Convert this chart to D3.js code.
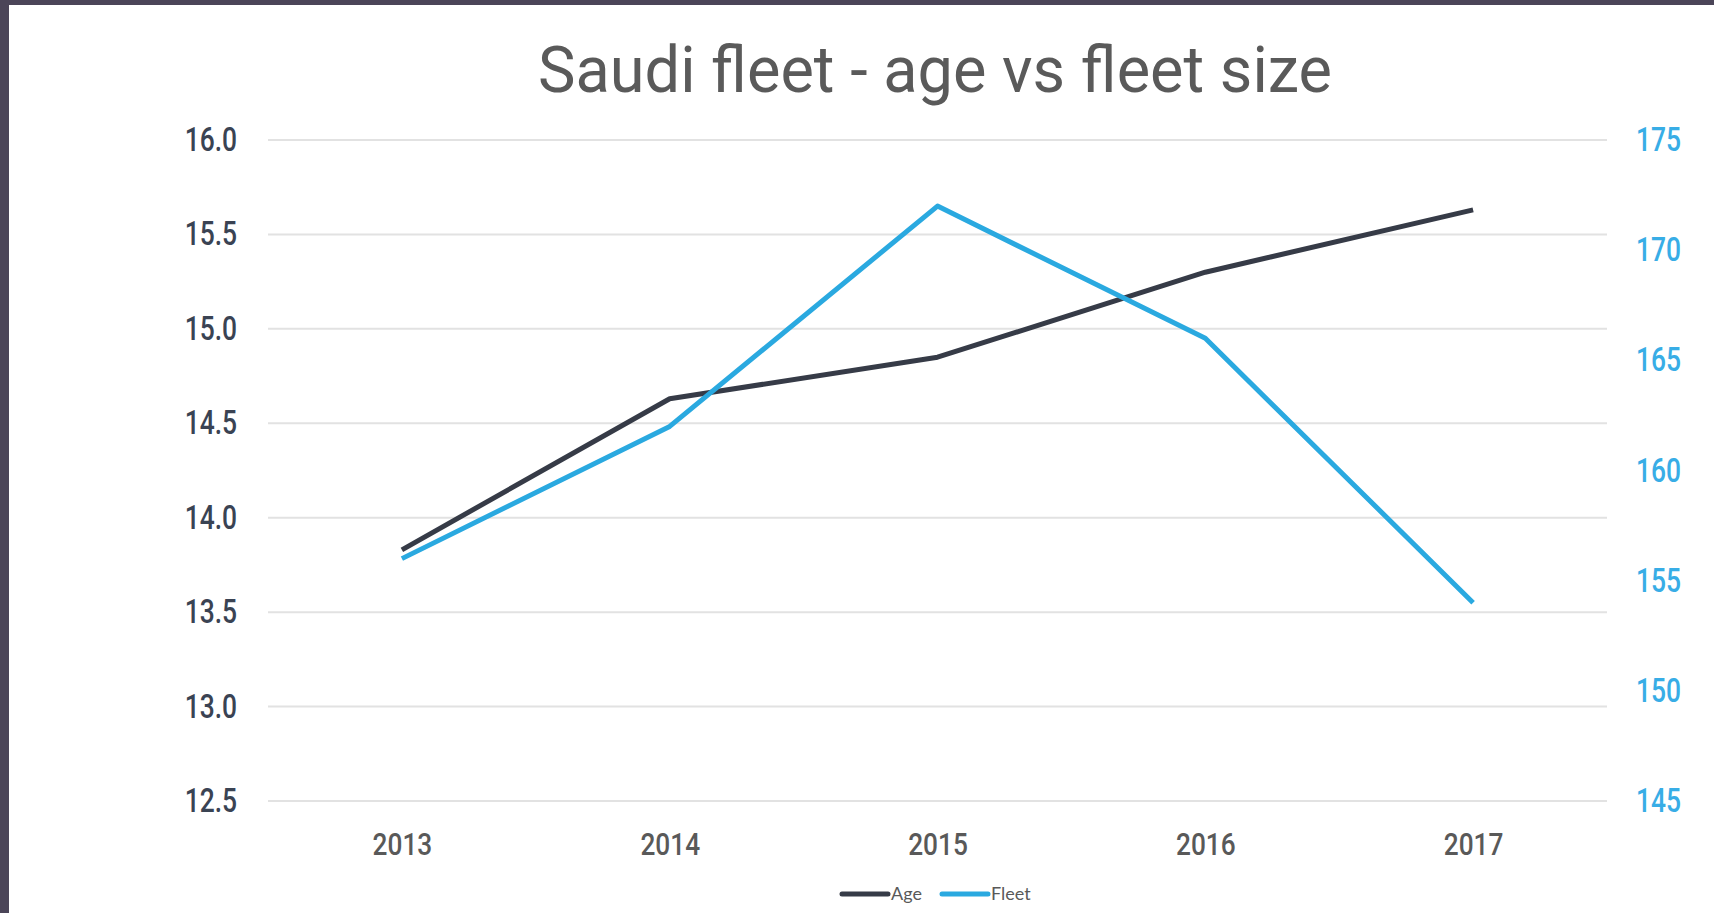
<!DOCTYPE html>
<html>
<head>
<meta charset="utf-8">
<script src="https://cdn.jsdelivr.net/npm/d3@7"></script>
<style>
  html, body { margin: 0; padding: 0; background: #4b4558; }
  svg { display: block; }
</style>
</head>
<body>
<svg id="chart" width="1714" height="913"></svg>
<script>
// data
let years = ["2013", "2014", "2015", "2016", "2017"];
let age = [13.83, 14.63, 14.85, 15.30, 15.63];
let fleet = [156, 162, 172, 166, 154];
let ageTicks = [12.5, 13.0, 13.5, 14.0, 14.5, 15.0, 15.5, 16.0];
let fleetTicks = [145, 150, 155, 160, 165, 170, 175];

let width = 1714;
let height = 913;
let margin = {left: 268, right: 107, top: 140, bottom: 112};

let tickFont = "Roboto, sans-serif";

// squeeze text horizontally so Roboto looks like a condensed DIN face
function condense(sel, factor) {
    sel.each(function() {
        let w = this.getComputedTextLength();
        d3.select(this)
            .attr("textLength", w * factor)
            .attr("lengthAdjust", "spacingAndGlyphs");
    });
}

let svg = d3.select("#chart");

// white page inside the dark frame
svg.append("rect")
    .attr("x", 9).attr("y", 5)
    .attr("width", width - 9).attr("height", height - 5)
    .attr("fill", "#ffffff");

let x = d3.scalePoint()
    .domain(years)
    .range([margin.left, width - margin.right])
    .padding(0.5);

let yAge = d3.scaleLinear()
    .domain([12.5, 16.0])
    .range([height - margin.bottom, margin.top]);

let yFleet = d3.scaleLinear()
    .domain([145, 175])
    .range([height - margin.bottom, margin.top]);

// gridlines
svg.append("g")
    .selectAll("line")
    .data(ageTicks)
    .join("line")
    .attr("x1", margin.left)
    .attr("x2", width - margin.right)
    .attr("y1", d => yAge(d))
    .attr("y2", d => yAge(d))
    .attr("stroke", "#e2e2e2")
    .attr("stroke-width", 2);

// left axis
let leftAxis = svg.append("g")
    .attr("transform", `translate(${margin.left - 31},0)`)
    .call(d3.axisLeft(yAge).tickValues(ageTicks).tickFormat(d3.format(".1f")).tickSize(0));
leftAxis.select(".domain").remove();
leftAxis.selectAll("text")
    .attr("x", 0)
    .attr("fill", "#3a4353")
    .style("font-family", tickFont)
    .style("font-weight", 500)
    .style("font-size", "33px")
    .call(condense, 0.8);

// right axis
let rightAxis = svg.append("g")
    .attr("transform", `translate(${width - margin.right + 29},0)`)
    .call(d3.axisRight(yFleet).tickValues(fleetTicks).tickSize(0));
rightAxis.select(".domain").remove();
rightAxis.selectAll("text")
    .attr("x", 0)
    .attr("fill", "#38ade6")
    .style("font-family", tickFont)
    .style("font-weight", 500)
    .style("font-size", "33px")
    .call(condense, 0.8);

// bottom axis
let bottomAxis = svg.append("g")
    .attr("transform", `translate(0,${height - margin.bottom})`)
    .call(d3.axisBottom(x).tickSize(0));
bottomAxis.select(".domain").remove();
bottomAxis.selectAll("text")
    .attr("y", 31)
    .attr("fill", "#595959")
    .style("font-family", tickFont)
    .style("font-weight", 500)
    .style("font-size", "32px")
    .call(condense, 0.82);

// lines
let ageLine = d3.line()
    .x((d, i) => x(years[i]))
    .y(d => yAge(d));

let fleetLine = d3.line()
    .x((d, i) => x(years[i]))
    .y(d => yFleet(d));

svg.append("path")
    .datum(age)
    .attr("d", ageLine)
    .attr("fill", "none")
    .attr("stroke", "#363b47")
    .attr("stroke-width", 5)
    .attr("stroke-linejoin", "round");

svg.append("path")
    .datum(fleet)
    .attr("d", fleetLine)
    .attr("fill", "none")
    .attr("stroke", "#2aa9e0")
    .attr("stroke-width", 5)
    .attr("stroke-linejoin", "round");

// title
svg.append("text")
    .attr("x", 935)
    .attr("y", 92)
    .attr("text-anchor", "middle")
    .attr("fill", "#5a5a5a")
    .style("font-family", "Roboto, sans-serif")
    .style("font-weight", 400)
    .style("font-size", "64px")
    .text("Saudi fleet - age vs fleet size")
    .attr("textLength", 794)
    .attr("lengthAdjust", "spacingAndGlyphs");

// legend
let legendItems = [
    {name: "Age", color: "#363b47", x: 842},
    {name: "Fleet", color: "#2aa9e0", x: 942}
];
let legend = svg.append("g").attr("transform", "translate(0,894)");
legend.selectAll("line")
    .data(legendItems)
    .join("line")
    .attr("x1", d => d.x)
    .attr("x2", d => d.x + 46)
    .attr("stroke", d => d.color)
    .attr("stroke-width", 5)
    .attr("stroke-linecap", "round");
legend.selectAll("text")
    .data(legendItems)
    .join("text")
    .attr("x", d => d.x + 49)
    .attr("y", 6)
    .attr("fill", "#595959")
    .style("font-family", "Lato, 'Open Sans', sans-serif")
    .style("font-size", "18px")
    .text(d => d.name);
</script>
</body>
</html>
